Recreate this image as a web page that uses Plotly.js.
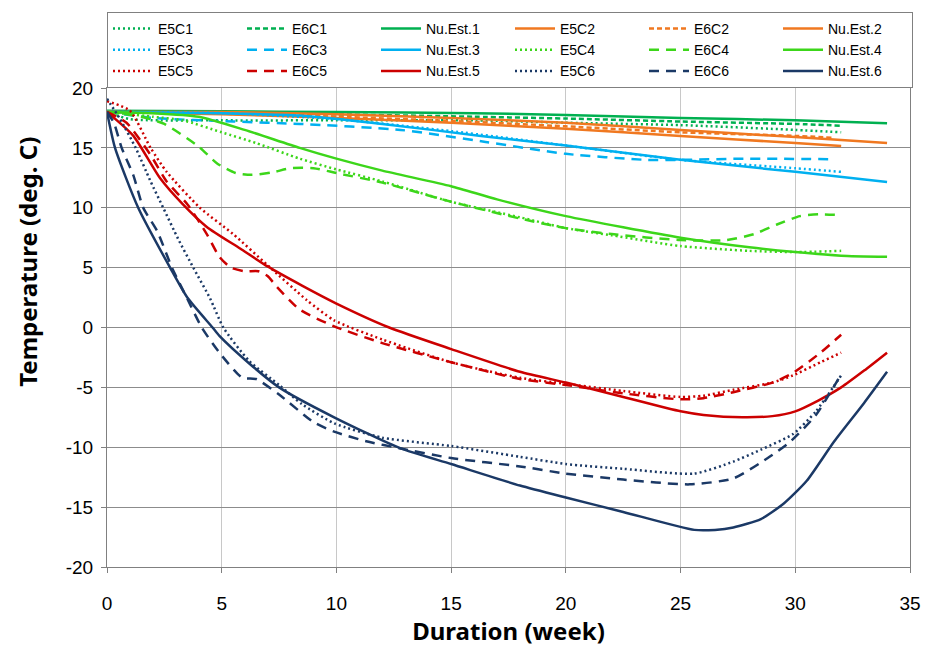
<!DOCTYPE html>
<html>
<head>
<meta charset="utf-8">
<script src="https://cdn.plot.ly/plotly-3.0.1.min.js"></script>
<style>html,body{margin:0;padding:0;background:#fff;}#chart{width:930px;height:654px;}</style>
</head>
<body>
<div id="chart"></div>
<script>
// ---- data (weeks, temperature deg. C) ----
var seriesNames = ["E5C1","E6C1","Nu.Est.1","E5C2","E6C2","Nu.Est.2","E5C3","E6C3","Nu.Est.3","E5C4","E6C4","Nu.Est.4","E5C5","E6C5","Nu.Est.5","E5C6","E6C6","Nu.Est.6"];

var wk_E5C1 = [0,1,5,10,16,20,25,30,32];
var t_E5C1  = [18,17.4,17.3,17.3,17.3,17.1,16.9,16.5,16.3];
var wk_E6C1 = [0,5,10,16,20,25,30,32];
var t_E6C1  = [18,17.9,17.8,17.6,17.45,17.2,17.0,16.85];
var wk_Nu1  = [0,5,10,16,20,25,30,34];
var t_Nu1   = [18.1,18.05,18.0,17.9,17.75,17.5,17.3,17.05];

var wk_E5C2 = [0,5,10,15,20,25,30,32];
var t_E5C2  = [18.0,17.8,17.5,17.1,16.6,16.0,15.4,15.15];
var wk_E6C2 = [0,5,10,15,20,25,30,31.6];
var t_E6C2  = [18.0,17.85,17.6,17.25,16.8,16.3,16.0,15.85];
var wk_Nu2  = [0,5,10,15,20,25,30,34];
var t_Nu2   = [18.0,18.0,17.8,17.5,17.1,16.5,15.9,15.4];

var wk_E5C3 = [0,5,10,15,20,25,30,32];
var t_E5C3  = [18.0,17.9,17.4,16.4,15.2,14.0,13.3,13.0];
var wk_E6C3 = [0,2,5.5,8.4,12.8,16.5,20,23.5,25,28,31.6];
var t_E6C3  = [18,17.5,17.2,17.0,16.5,15.5,14.5,14.0,14.0,14.1,14.05];
var wk_Nu3  = [0,5,8.4,12,16.3,20,25,30,34];
var t_Nu3   = [18,17.9,17.7,17.0,16.0,15.2,14.0,13.0,12.15];

var wk_E5C4 = [0,2,3.3,5,6.5,8.4,10,12,15,18,20,22,25,28,30,32];
var t_E5C4  = [18,17.6,17.3,16.3,15.4,14.1,13.2,12.2,10.5,9.2,8.3,7.7,6.8,6.4,6.3,6.4];
var wk_E6C4 = [0,1.5,2.5,4,4.8,5.6,6.3,7.2,8,9,10,12,15,18,20,22,25,27,28.2,29.2,30.2,31,32];
var t_E6C4  = [18,17.6,17.0,15.1,13.7,12.9,12.75,12.95,13.3,13.3,12.9,12.1,10.5,9.1,8.3,7.8,7.3,7.3,7.8,8.6,9.3,9.45,9.4];
var wk_Nu4  = [0,2,4,6,8.4,10,12,15,17,20,25,28,30,32,34];
var t_Nu4   = [18,17.9,17.6,16.5,15.0,14.1,13.1,11.8,10.7,9.3,7.5,6.7,6.3,6.0,5.9];

var wk_E5C5 = [0,1,1.9,2.6,4.05,5.5,7,8.7,9.9,12,15,18,20,22.5,25,26,27.3,29,29.9,31.1,32];
var t_E5C5  = [18.9,18.1,15.0,13.0,10.0,7.8,5.2,2.3,0.6,-1.0,-2.9,-4.2,-4.7,-5.3,-5.8,-5.7,-5.2,-4.6,-4.0,-2.9,-2.1];
var wk_E6C5 = [0,0.85,1.9,2.6,3.5,4.35,4.9,5.4,6.0,6.6,7.0,7.4,8.4,9.9,12,15,18,20,22.5,25,26,27.3,29,29.9,31.1,32];
var t_E6C5  = [18,17.1,14.4,12.2,10.3,7.8,5.9,5.0,4.7,4.7,4.3,3.4,1.5,0.1,-1.3,-2.9,-4.3,-4.8,-5.5,-6.0,-5.9,-5.4,-4.6,-3.8,-2.1,-0.6];
var wk_Nu5  = [0,1.15,2.3,3.3,4.35,5.8,7,8.5,10,12.3,15,18,20,22.5,25,26,27.7,29,30,31,32,33,34];
var t_Nu5   = [18,16.0,12.5,10.3,8.4,6.6,5.1,3.5,2.0,0,-1.8,-3.7,-4.6,-5.8,-7.0,-7.3,-7.5,-7.4,-7.0,-6.1,-5.0,-3.6,-2.1];

var wk_E5C6 = [0,0.57,1.25,1.9,2.45,3.1,3.76,4.5,5.07,6.2,7.5,8.5,9.9,12,15,18,20,22.5,25.6,27.3,28.5,29.9,30.9,32];
var t_E5C6  = [19.1,17.4,15,12.2,10,7.4,5,2.4,0,-2.8,-4.8,-6.4,-8.0,-9.2,-9.9,-10.8,-11.4,-11.8,-12.2,-11.2,-10.2,-8.9,-7.0,-4.0];
var wk_E6C6 = [0,0.3,0.64,1.15,1.58,2.2,2.83,3.5,4.13,4.9,5.9,6.5,7.5,9.0,9.9,11.3,12.8,15,18,20,22.5,25.4,27.3,28.8,29.8,30.9,32];
var t_E6C6  = [18,17.1,15,12.7,10,8.0,5,2.4,0,-2.1,-4.2,-4.3,-5.6,-7.9,-8.7,-9.5,-10.1,-10.9,-11.6,-12.2,-12.7,-13.1,-12.6,-10.9,-9.5,-7.3,-3.9];
var wk_Nu6  = [0,0.35,1.36,2.75,3.5,4.6,4.9,6.2,7.5,9.9,12.8,15,18,20,22.5,25.6,26.5,27.3,28.5,29.5,30.5,31.7,33,34];
var t_Nu6   = [18,15,10,5,2.5,0,-0.7,-3.0,-5.0,-7.5,-10.1,-11.4,-13.2,-14.2,-15.4,-16.9,-16.9,-16.7,-16.0,-14.7,-12.8,-9.5,-6.3,-3.7];

var xTicks = [0,5,10,15,20,25,30,35];
var yTicks = [20,15,10,5,0,-5,-10,-15,-20];

// ---- styles ----
var cGreen = "#00B050", cOrange = "#F07820", cBlue = "#00B0F0",
    cLime = "#3CD61A", cRed = "#CC0000", cNavy = "#1B3966";
var DOT = "2px,3px", SDASH = "5px,3px", LDASH = "10px,7px";

var X = [wk_E5C1,wk_E6C1,wk_Nu1,wk_E5C2,wk_E6C2,wk_Nu2,wk_E5C3,wk_E6C3,wk_Nu3,wk_E5C4,wk_E6C4,wk_Nu4,wk_E5C5,wk_E6C5,wk_Nu5,wk_E5C6,wk_E6C6,wk_Nu6];
var Y = [t_E5C1,t_E6C1,t_Nu1,t_E5C2,t_E6C2,t_Nu2,t_E5C3,t_E6C3,t_Nu3,t_E5C4,t_E6C4,t_Nu4,t_E5C5,t_E6C5,t_Nu5,t_E5C6,t_E6C6,t_Nu6];
var colors = [cGreen,cGreen,cGreen,cOrange,cOrange,cOrange,cBlue,cBlue,cBlue,cLime,cLime,cLime,cRed,cRed,cRed,cNavy,cNavy,cNavy];
var dashes = [DOT,SDASH,"solid","solid",SDASH,"solid",DOT,LDASH,"solid",DOT,LDASH,"solid",DOT,LDASH,"solid",DOT,LDASH,"solid"];

var traces = seriesNames.map(function(n,i){
  return {
    x: X[i], y: Y[i], name: n, type: "scatter", mode: "lines",
    line: {color: colors[i], width: 2.5, dash: dashes[i], shape: "spline", smoothing: 0.6},
    hoverinfo: "x+y+name"
  };
});

var layout = {
  width: 930, height: 654,
  margin: {l: 107, r: 20, t: 82, b: 87},
  paper_bgcolor: "#ffffff", plot_bgcolor: "#ffffff",
  font: {family: "Liberation Sans, Arial, sans-serif", color: "#000"},
  showlegend: true,
  legend: {
    orientation: "h", x: 0, xanchor: "left", y: 1.1588, yanchor: "top",
    entrywidth: 79, entrywidthmode: "pixels",
    bordercolor: "#808080", borderwidth: 1, bgcolor: "#ffffff",
    font: {size: 14, family: "Liberation Sans, Arial, sans-serif"},
    tracegroupgap: 0, itemwidth: 40
  },
  xaxis: {
    range: [0, 35], tickvals: xTicks, ticktext: xTicks.map(String),
    showgrid: true, gridcolor: "#c8c8c8", gridwidth: 1,
    showline: true, linecolor: "#808080", linewidth: 1, mirror: true,
    ticks: "outside", ticklen: 5, tickcolor: "#808080",
    tickfont: {size: 19}, ticklabelstandoff: 14, zeroline: false,
    title: {text: "<b>Duration (week)</b>", font: {size: 24, family: "Noto Sans, Arial, sans-serif"}, standoff: 10}
  },
  yaxis: {
    range: [-20, 20], tickvals: yTicks, ticktext: yTicks.map(String),
    showgrid: true, gridcolor: "#8c8c8c", gridwidth: 1,
    showline: true, linecolor: "#808080", linewidth: 1, mirror: true,
    ticks: "outside", ticklen: 5, tickcolor: "#808080",
    tickfont: {size: 19}, ticklabelstandoff: 4, zeroline: false
  },
  annotations: [{
    text: "<b>Temperature (deg. C)</b>", textangle: -90,
    xref: "paper", yref: "paper", x: -0.0984, y: 0.637,
    xanchor: "center", yanchor: "middle", showarrow: false,
    font: {size: 24, family: "Noto Sans, Arial, sans-serif", color: "#000"}
  }]
};

Plotly.newPlot("chart", traces, layout, {displayModeBar: false, staticPlot: true});
</script>
</body>
</html>
